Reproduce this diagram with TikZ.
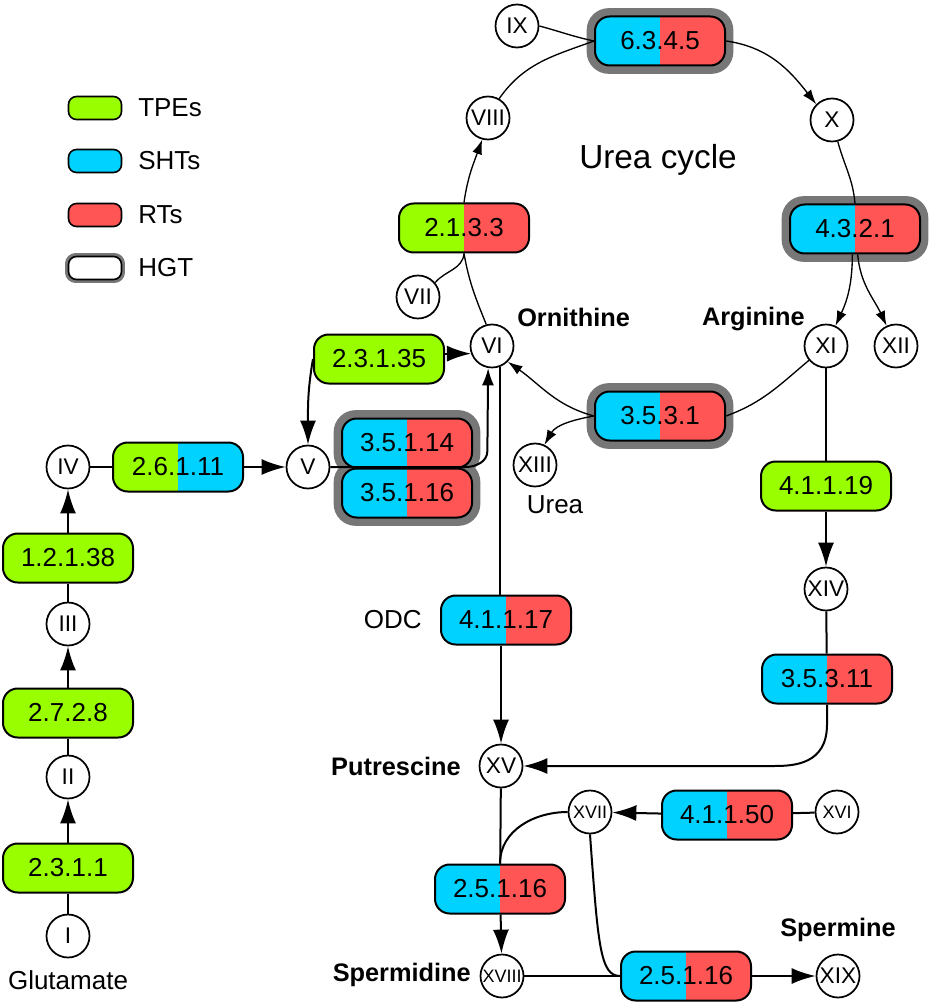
\documentclass[tikz,border=0pt]{standalone}
\usepackage{fontspec}
\setmainfont{Liberation Sans}
\usetikzlibrary{arrows.meta,backgrounds}
\definecolor{tpe}{HTML}{99FF00}
\definecolor{sht}{HTML}{00D2FF}
\definecolor{rt}{HTML}{FF5555}
\definecolor{hgtgray}{HTML}{777777}
\begin{document}
\begin{tikzpicture}[x=0.75pt, y=0.75pt,
	cpd/.style={circle, draw, line width=1.3pt, fill=white, minimum size=32.25pt, inner sep=0pt, font=\fontsize{17}{17}\selectfont},
	cpds/.style={cpd, font=\fontsize{13.5}{14}\selectfont},
	enz/.style={draw, line width=1.5pt, rounded corners=11pt, minimum width=97.5pt, minimum height=36.75pt, inner sep=0pt, font=\fontsize{19.5}{20}\selectfont},
	one/.style={enz, fill=#1},
	two/.style 2 args={enz, path picture={
			\fill[#1, sharp corners] (path picture bounding box.south west) rectangle (path picture bounding box.north);
			\fill[#2, sharp corners] (path picture bounding box.south) rectangle (path picture bounding box.north east);}},
	leg/.style={draw, line width=1.2pt, rounded corners=6pt, minimum width=39.75pt, minimum height=17.25pt, inner sep=0pt},
	lbl/.style={inner sep=0pt, font=\fontsize{19.5}{20}\selectfont},
	blbl/.style={inner sep=0pt, font=\fontsize{19}{20}\selectfont\bfseries},
	ring/.style={draw=hgtgray, line width=#1, rounded corners=11pt},
	ln/.style={line width=1.5pt},
	cyc/.style={line width=1pt},
	big/.tip={Latex[length=18pt,width=12pt]},
	mid/.tip={Latex[length=13pt,width=9pt]},
	sm/.tip={Latex[length=11pt,width=7.5pt]}]
	\useasboundingbox (0,0) rectangle (937,-1005);
	%legend
	\node[leg, fill=tpe] (lgtpe) at (95,-108) {};
	\node[leg, fill=sht] (lgsht) at (95,-161) {};
	\node[leg, fill=rt] (lgrt) at (95,-215) {};
	\node[leg, fill=white] (lghgt) at (95,-268) {};
	\node[lbl, anchor=west] at (138,-108) {TPEs};
	\node[lbl, anchor=west] at (138,-161) {SHTs};
	\node[lbl, anchor=west] at (138,-215) {RTs};
	\node[lbl, anchor=west] at (138,-268) {HGT};
	%compounds
	\node[cpd] (I) at (68,-936) {I};
	\node[cpd] (II) at (68,-777) {II};
	\node[cpd] (III) at (68,-624) {III};
	\node[cpd] (IV) at (68,-467) {IV};
	\node[cpd] (V) at (308,-467) {V};
	\node[cpd] (VI) at (492,-346) {VI};
	\node[cpd] (VII) at (418,-297) {VII};
	\node[cpd] (VIII) at (488,-118) {VIII};
	\node[cpd] (IX) at (517,-26) {IX};
	\node[cpd] (X) at (832,-120) {X};
	\node[cpd] (XI) at (826,-346) {XI};
	\node[cpd] (XII) at (896,-346) {XII};
	\node[cpd] (XIII) at (535,-465) {XIII};
	\node[cpd] (XIV) at (826,-589) {XIV};
	\node[cpd] (XV) at (501,-766) {XV};
	\node[cpds] (XVI) at (837,-812) {XVI};
	\node[cpds] (XVII) at (590,-812) {XVII};
	\node[cpds] (XVIII) at (502,-976) {XVIII};
	\node[cpd] (XIX) at (838,-976) {XIX};
	%enzymes
	\node[one=tpe] (e2311) at (68,-868) {2.3.1.1};
	\node[one=tpe] (e2728) at (68,-713) {2.7.2.8};
	\node[one=tpe] (e12138) at (68,-558) {1.2.1.38};
	\node[two={tpe}{sht}] (e26111) at (178,-467) {2.6.1.11};
	\node[one=tpe] (e23135) at (379,-359) {2.3.1.35};
	\node[two={sht}{rt}] (e35114) at (407,-443) {3.5.1.14};
	\node[two={sht}{rt}] (e35116) at (407,-493) {3.5.1.16};
	\node[two={tpe}{rt}] (e2133) at (464,-228) {2.1.3.3};
	\node[two={sht}{rt}] (e6345) at (660,-41) {6.3.4.5};
	\node[two={sht}{rt}] (e4321) at (855,-229) {4.3.2.1};
	\node[two={sht}{rt}] (e3531) at (660,-416) {3.5.3.1};
	\node[one=tpe] (e41119) at (826,-486) {4.1.1.19};
	\node[two={sht}{rt}] (e35311) at (827,-679) {3.5.3.11};
	\node[two={sht}{rt}] (e41117) at (506,-620) {4.1.1.17};
	\node[two={sht}{rt}] (e41150) at (727,-815) {4.1.1.50};
	\node[two={sht}{rt}] (e25116a) at (500,-889) {2.5.1.16};
	\node[two={sht}{rt}] (e25116b) at (686,-976) {2.5.1.16};
	%hgt frames
	\begin{scope}[on background layer]
		\foreach \n in {e6345,e4321,e3531,e35114,e35116}
		\draw[ring=11pt] (\n.south west) rectangle (\n.north east);
		\draw[ring=4pt, rounded corners=6pt] (lghgt.south west) rectangle (lghgt.north east);
	\end{scope}
	%labels
	\node[lbl] at (658,-160) {\fontsize{25}{26}\selectfont Urea cycle};
	\node[blbl, anchor=west] at (517,-317) {Ornithine};
	\node[blbl, anchor=east] at (805,-319) {Arginine};
	\node[blbl, anchor=east] at (461,-766) {Putrescine};
	\node[blbl, anchor=east] at (471,-975) {Spermidine};
	\node[blbl] at (838,-930) {Spermine};
	\node[lbl, anchor=east] at (422,-620) {ODC};
	\node[lbl] at (555,-505) {Urea};
	\node[lbl] at (68,-980) {Glutamate};
	%glutamate to ornithine
	\draw[ln] (I) -- (e2311);
	\draw[ln,-big] (e2311) -- (II);
	\draw[ln] (II) -- (e2728);
	\draw[ln,-big] (e2728) -- (III);
	\draw[ln] (III) -- (e12138);
	\draw[ln,-big] (e12138) -- (IV);
	\draw[ln] (IV) -- (e26111);
	\draw[ln,-big] (e26111) -- (V);
	\draw[ln,-big] (e23135.east |- VI.200) -- (VI.200);
	\draw[ln,-big] (e23135.west) to[out=-100,in=90] (V.north);
	\draw[ln,-mid] (V.east) -- ++(135,0) to[out=0,in=-90] ++(22,16) -- (VI.-100);
	%urea cycle
	\draw[cyc] (VI.105) to[out=112,in=-80] (e2133.south);
	\draw[cyc] (VII.40) to[out=50,in=-95] (e2133.south);
	\draw[cyc,-sm] (e2133.north) to[out=82,in=-110] (VIII.-105);
	\draw[cyc] (VIII.60) to[out=55,in=200] (e6345.west);
	\draw[cyc] (IX.east) to[out=-15,in=168] (e6345.west);
	\draw[cyc,-sm] (e6345.east) to[out=-8,in=128] (X.135);
	\draw[cyc] (X.-75) to[out=-75,in=95] (e4321.north);
	\draw[cyc,-sm] ([xshift=-2]e4321.south) to[out=-90,in=65] (XI.65);
	\draw[cyc,-sm] ([xshift=2]e4321.south) to[out=-85,in=115] (XII.115);
	\draw[cyc] (XI.-140) to[out=-140,in=20] (e3531.east);
	\draw[cyc,-sm] (e3531.west) to[out=165,in=-35] (VI.-45);
	\draw[cyc,-sm] (e3531.west) to[out=190,in=60] (XIII.65);
	%polyamines
	\draw[ln] (VI.-70) -- (VI.-70 |- e41117.north);
	\draw[ln,-big] (XV |- e41117.south) -- (XV.north);
	\draw[ln] (XI) -- (e41119);
	\draw[ln,-big] (e41119) -- (XIV);
	\draw[ln] (XIV) -- (e35311);
	\draw[ln,-big] (e35311.south) -- ++(0,-20) .. controls +(0,-40) and +(20,0) .. ([xshift=-40]e35311.south |- XV) -- (XV);
	\draw[ln] (XV) -- (e25116a);
	\draw[ln,-big] (e25116a) -- (XVIII);
	\draw[ln] (XVI) -- (e41150);
	\draw[ln,-big] (e41150) -- (XVII);
	\draw[ln] (XVII.west) to[out=180,in=90] (e25116a.north);
	\draw[ln] (XVII.south) .. controls +(8,-110) and +(-20,0) .. (e25116b.west);
	\draw[ln] (XVIII) -- (e25116b);
	\draw[ln,-big] (e25116b) -- (XIX);
\end{tikzpicture}
\end{document}
